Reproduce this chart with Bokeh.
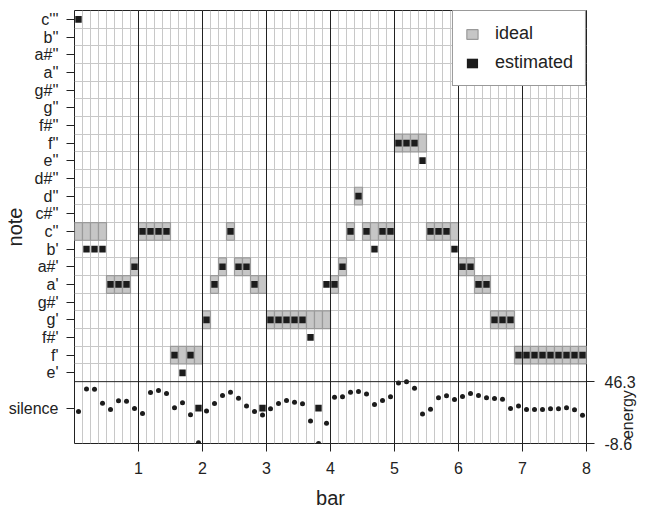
import math
from bokeh.plotting import figure
from bokeh.models import (ColumnDataSource, Range1d, LinearAxis, FixedTicker, Grid,
                          Span, Legend, LegendItem)
from bokeh.embed import file_html
from bokeh.resources import INLINE

# ---------------- data ----------------
notes = ["e'", "f'", "f#'", "g'", "g#'", "a'", "a#'", "b'", "c''", "c#''", "d''",
         "d#''", "e''", "f''", "f#''", "g''", "g#''", "a''", "a#''", "b''", "c'''"]
silence = "silence"
bar_ticks = [1, 2, 3, 4, 5, 6, 7, 8]
energy_ticks = [-8.6, 46.3]
steps_per_bar = 8
n_bars = 8

ideal = ["c''", "c''", "c''", "c''", "a'", "a'", "a'", "a#'",
         "c''", "c''", "c''", "c''", "f'", "f'", "f'", "f'",
         "g'", "a'", "a#'", "c''", "a#'", "a#'", "a'", "a'",
         "g'", "g'", "g'", "g'", "g'", "g'", "g'", "g'",
         "a'", "a#'", "c''", "d''", "c''", "c''", "c''", "c''",
         "f''", "f''", "f''", "f''", "c''", "c''", "c''", "c''",
         "a#'", "a#'", "a'", "a'", "g'", "g'", "g'", "f'",
         "f'", "f'", "f'", "f'", "f'", "f'", "f'", "f'"]

estimated = ["c'''", "b'", "b'", "b'", "a'", "a'", "a'", "a#'",
             "c''", "c''", "c''", "c''", "f'", "e'", "f'", "silence",
             "g'", "a'", "a#'", "c''", "a#'", "a#'", "a'", "silence",
             "g'", "g'", "g'", "g'", "g'", "f#'", "silence", "a'",
             "a'", "a#'", "c''", "d''", "c''", "b'", "c''", "c''",
             "f''", "f''", "f''", "e''", "c''", "c''", "c''", "b'",
             "a#'", "a#'", "a'", "a'", "g'", "g'", "g'", "f'",
             "f'", "f'", "f'", "f'", "f'", "f'", "f'", "f'"]

energy = [19.9, 39.8, 39.5, 27.2, 21.6, 29.3, 29.0, 22.5,
          18.1, 36.6, 38.4, 35.7, 23.1, 27.5, 16.9, -8.0,
          20.2, 26.9, 34.0, 36.9, 31.6, 24.6, 19.9, 16.6,
          22.2, 26.9, 29.6, 28.1, 26.6, 11.4, -8.6, 9.3,
          32.5, 32.8, 36.9, 37.5, 35.4, 26.0, 29.6, 32.8,
          45.1, 46.3, 40.4, 17.5, 21.9, 31.9, 33.7, 30.4,
          33.1, 35.7, 34.0, 31.9, 31.3, 30.7, 22.5, 24.6,
          21.6, 21.6, 21.6, 22.2, 22.2, 23.1, 21.3, 16.4]

# ---------------- layout helpers ----------------
SIL_Y = -2
Y_LO, Y_HI = -4, len(notes) - 0.5


def note_y(name):
    return SIL_Y if name == silence else notes.index(name)


def step_x(i):
    return (i + 0.5) / steps_per_bar


FONT = "Liberation Sans"
TXT = "#222222"

p = figure(width=647, height=511, x_range=Range1d(0, n_bars), y_range=Range1d(Y_LO, Y_HI),
           output_backend="svg", toolbar_location=None,
           min_border_left=74, min_border_right=57, min_border_top=10, min_border_bottom=67)
p.background_fill_color = "white"
p.border_fill_color = "white"
p.outline_line_color = TXT
p.outline_line_width = 1

# energy range: maps energy_ticks onto the silence band (-4 .. -0.5)
e_lo, e_hi = energy_ticks
per_unit = (e_hi - e_lo) / (-0.5 - Y_LO)
p.extra_y_ranges = {"energy": Range1d(e_lo, e_lo + (Y_HI - Y_LO) * per_unit)}

# grids
p.xgrid.ticker = FixedTicker(ticks=[k / steps_per_bar for k in range(1, n_bars * steps_per_bar)])
p.xgrid.grid_line_color = "#c8c8c8"
p.xgrid.grid_line_width = 1
p.ygrid.ticker = FixedTicker(ticks=[i + 0.5 for i in range(0, len(notes) - 1)])
p.ygrid.grid_line_color = "#c8c8c8"
p.ygrid.grid_line_width = 1

bar_grid = Grid(dimension=0, ticker=FixedTicker(ticks=bar_ticks[:-1]),
                grid_line_color=TXT, grid_line_width=1, level="guide")
p.add_layout(bar_grid)
p.add_layout(Span(location=-0.5, dimension="width", line_color=TXT, line_width=1, level="guide"))

# glyphs
src_ideal = ColumnDataSource(dict(x=[step_x(i) for i in range(len(ideal))],
                                  y=[note_y(n) for n in ideal]))
src_est = ColumnDataSource(dict(x=[step_x(i) for i in range(len(estimated))],
                                y=[note_y(n) for n in estimated]))
src_en = ColumnDataSource(dict(x=[step_x(i) for i in range(len(energy))], e=energy))

r_ideal = p.rect(x="x", y="y", width=1 / steps_per_bar, height=1, source=src_ideal,
                 fill_color="#c6c6c6", line_color="#9a9a9a", line_width=1.2)
r_est = p.rect(x="x", y="y", width=0.1, height=0.38, source=src_est,
               fill_color="#1c1c1c", line_color=None)
p.scatter(x="x", y="e", source=src_en, y_range_name="energy", size=5,
          fill_color="#1c1c1c", line_color=None)

# axes
xa = p.xaxis[0]
xa.ticker = FixedTicker(ticks=bar_ticks)
xa.major_label_overrides = {t: str(t) for t in bar_ticks}
xa.axis_label = "bar"

ya = p.yaxis[0]
ya.ticker = FixedTicker(ticks=[SIL_Y] + list(range(len(notes))))
overrides = {i: n for i, n in enumerate(notes)}
overrides[SIL_Y] = silence
ya.major_label_overrides = overrides
ya.axis_label = "note"

# label starts at the bottom of the axis; a no-break space lifts it clear of "-8.6"
ra = LinearAxis(y_range_name="energy", ticker=FixedTicker(ticks=energy_ticks),
                major_label_overrides={t: str(t) for t in energy_ticks},
                bounds=(e_lo, e_hi), axis_label="\u00a0energy")
p.add_layout(ra, "right")

for ax in (xa, ya, ra):
    ax.axis_line_color = None
    ax.major_tick_in = 0
    ax.major_tick_out = 8
    ax.major_tick_line_color = TXT
    ax.minor_tick_line_color = None
    ax.major_label_text_font = FONT
    ax.major_label_text_font_size = "16px"
    ax.major_label_text_color = TXT
    ax.major_label_standoff = 8
    ax.axis_label_text_font = FONT
    ax.axis_label_text_font_size = "20px"
    ax.axis_label_text_font_style = "normal"
    ax.axis_label_text_color = TXT
xa.major_label_standoff = 10
xa.axis_label_standoff = 10
ya.axis_label_standoff = -20
ra.major_label_standoff = 10
ra.axis_label_standoff = -11
ra.axis_label_text_font_size = "16px"
ra.axis_label_orientation = math.pi / 2
if "axis_label_align" in LinearAxis.properties():
    ra.axis_label_align = "start"

legend = Legend(items=[LegendItem(label="ideal", renderers=[r_ideal]),
                       LegendItem(label="estimated", renderers=[r_est])],
                location="top_right", margin=0, padding=12, spacing=8,
                label_standoff=16, glyph_width=14, glyph_height=12,
                label_text_font=FONT, label_text_font_size="18px", label_text_color=TXT,
                border_line_color="#333333", border_line_width=1,
                background_fill_color="white", background_fill_alpha=1.0)
p.add_layout(legend)

open("out.html", "w").write(file_html(p, INLINE))
